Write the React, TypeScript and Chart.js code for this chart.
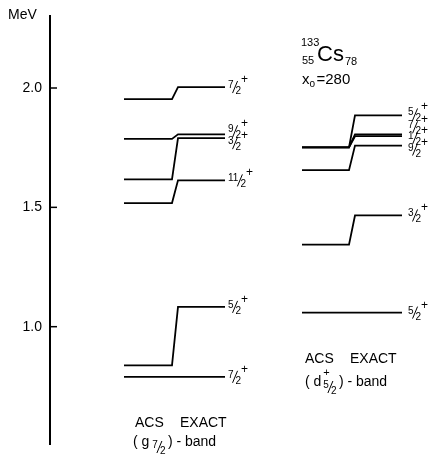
import React, { useEffect, useRef } from "react";
import { Chart, registerables } from "chart.js";
Chart.register(...registerables);

// ---- data ----
const yTicks = [1.0, 1.5, 2.0];

// (g7/2)-band levels, top to bottom
const gNum = ["7", "9", "3", "11", "5", "7"];
const gDen = ["2", "2", "2", "2", "2", "2"];
const gACS = [1.953, 1.787, 1.617, 1.518, 0.838, 0.79];
const gExact = [2.004, 1.806, 1.79, 1.613, 1.083, 0.79];

// (d5/2)-band levels, top to bottom
const dNum = ["5", "7", "1", "9", "3", "5"];
const dDen = ["2", "2", "2", "2", "2", "2"];
const dACS = [1.751, 1.751, 1.751, 1.656, 1.344, 1.059];
const dExact = [1.885, 1.806, 1.798, 1.759, 1.466, 1.059];

// ---- layout (pixel positions, not data) ----
const FONT = "'Liberation Sans', 'DejaVu Sans', sans-serif";
const gX = [124, 172, 178, 225];
const dX = [302, 349, 355, 402];
const gLabelX = 228;
const dLabelX = 408;
const gLabelDy = [0, -3, 5, 0, 0, 0];
const dLabelDy = [-1, -7, 2, 4, 0, 0];

function levelData(acs: number[], ex: number[], xs: number[]) {
  return acs.map((a, i) => [
    { x: xs[0], y: a },
    { x: xs[1], y: a },
    { x: xs[2], y: ex[i] },
    { x: xs[3], y: ex[i] },
  ]);
}

function drawFrac(ctx: CanvasRenderingContext2D, x: number, y: number, num: string, den: string, plus: boolean) {
  ctx.save();
  ctx.fillStyle = "#000";
  ctx.strokeStyle = "#000";
  ctx.textAlign = "left";
  ctx.textBaseline = "alphabetic";
  ctx.font = `10px ${FONT}`;
  const nw = ctx.measureText(num).width;
  ctx.fillText(num, x, y + 1);
  ctx.lineWidth = 1;
  ctx.beginPath();
  ctx.moveTo(x + nw - 1, y + 6);
  ctx.lineTo(x + nw + 4, y - 6);
  ctx.stroke();
  ctx.fillText(den, x + nw + 2, y + 7);
  const dw = ctx.measureText(den).width;
  if (plus) {
    ctx.font = `12px ${FONT}`;
    ctx.fillText("+", x + nw + dw + 2, y - 4);
  }
  ctx.restore();
}

const overlay = {
  id: "overlay",
  afterDraw(chart: any) {
    const ctx: CanvasRenderingContext2D = chart.ctx;
    const ys = chart.scales.y;
    const axisX = chart.chartArea.left;
    ctx.save();
    ctx.strokeStyle = "#000";
    ctx.fillStyle = "#000";
    // inward tick marks
    ctx.lineWidth = 1.5;
    yTicks.forEach((v) => {
      const py = ys.getPixelForValue(v);
      ctx.beginPath();
      ctx.moveTo(axisX, py);
      ctx.lineTo(axisX + 7, py);
      ctx.stroke();
    });
    // MeV
    ctx.font = `14px ${FONT}`;
    ctx.textBaseline = "middle";
    ctx.textAlign = "left";
    ctx.fillText("MeV", 8, 15);

    // level labels
    gExact.forEach((e, i) => {
      drawFrac(ctx, gLabelX, ys.getPixelForValue(e) + gLabelDy[i], gNum[i], gDen[i], true);
    });
    dExact.forEach((e, i) => {
      drawFrac(ctx, dLabelX, ys.getPixelForValue(e) + dLabelDy[i], dNum[i], dDen[i], true);
    });

    // nucleus title
    ctx.textBaseline = "alphabetic";
    ctx.font = `11px ${FONT}`;
    ctx.fillText("133", 301, 46);
    ctx.fillText("55", 302, 64);
    ctx.font = `22px ${FONT}`;
    ctx.fillText("Cs", 317, 61);
    const csw = ctx.measureText("Cs").width;
    ctx.font = `11px ${FONT}`;
    ctx.fillText("78", 317 + csw + 1, 65);

    // x0 = 280
    ctx.font = `15px ${FONT}`;
    ctx.fillText("x", 302, 84);
    const xw = ctx.measureText("x").width;
    ctx.font = `10px ${FONT}`;
    ctx.fillText("o", 302 + xw, 87);
    ctx.font = `15px ${FONT}`;
    ctx.fillText("=280", 302 + xw + 7, 84);

    // band captions (g)
    ctx.font = `14px ${FONT}`;
    ctx.fillText("ACS", 135, 427);
    ctx.fillText("EXACT", 180, 427);
    ctx.fillText("( g", 133, 446);
    let gx = 133 + ctx.measureText("( g").width + 3;
    ctx.font = `10px ${FONT}`;
    ctx.fillText("7", gx, 448);
    const sw = ctx.measureText("7").width;
    ctx.lineWidth = 1;
    ctx.beginPath();
    ctx.moveTo(gx + sw - 1, 453);
    ctx.lineTo(gx + sw + 4, 441);
    ctx.stroke();
    ctx.fillText("2", gx + sw + 2, 454);
    gx += sw + 10;
    ctx.font = `14px ${FONT}`;
    ctx.fillText(") - band", gx, 446);

    // band captions (d)
    ctx.fillText("ACS", 305, 363);
    ctx.fillText("EXACT", 350, 363);
    ctx.fillText("( d", 305, 386);
    let dx = 305 + ctx.measureText("( d").width + 2;
    ctx.font = `11px ${FONT}`;
    ctx.fillText("+", dx, 376);
    ctx.font = `10px ${FONT}`;
    ctx.fillText("5", dx, 388);
    const sw2 = ctx.measureText("5").width;
    ctx.beginPath();
    ctx.moveTo(dx + sw2 - 1, 393);
    ctx.lineTo(dx + sw2 + 4, 381);
    ctx.stroke();
    ctx.fillText("2", dx + sw2 + 2, 394);
    dx += sw2 + 10;
    ctx.font = `14px ${FONT}`;
    ctx.fillText(") - band", dx, 386);
    ctx.restore();
  },
};

export default function App() {
  const ref = useRef<HTMLCanvasElement | null>(null);
  useEffect(() => {
    if (!ref.current) return;
    const lines = [...levelData(gACS, gExact, gX), ...levelData(dACS, dExact, dX)];
    const chart = new Chart(ref.current, {
      type: "line",
      data: {
        datasets: lines.map((pts) => ({
          data: pts,
          borderColor: "#000",
          borderWidth: 1.8,
          pointRadius: 0,
          tension: 0,
          fill: false,
        })),
      },
      options: {
        animation: false,
        responsive: false,
        layout: { padding: { top: 7, left: 0, right: 0, bottom: 0 } },
        plugins: { legend: { display: false }, tooltip: { enabled: false } },
        scales: {
          x: { type: "linear", display: false, min: 50, max: 432 },
          y: {
            type: "linear",
            min: 0.506,
            max: 2.3,
            border: { display: true, color: "#000", width: 2 },
            grid: { drawOnChartArea: false, drawTicks: false },
            afterBuildTicks: (s: any) => {
              s.ticks = yTicks.map((v) => ({ value: v }));
            },
            afterFit: (s: any) => {
              s.width = 50;
            },
            ticks: {
              color: "#000",
              padding: 8,
              font: { size: 14, family: FONT },
              callback: (v: any) => Number(v).toFixed(1),
            },
          },
        },
      },
      plugins: [overlay],
    });
    return () => chart.destroy();
  }, []);
  return (
    <div style={{ position: "fixed", left: 0, top: 0, width: 432, height: 461, background: "#fff" }}>
      <canvas ref={ref} width={432} height={461} />
    </div>
  );
}
